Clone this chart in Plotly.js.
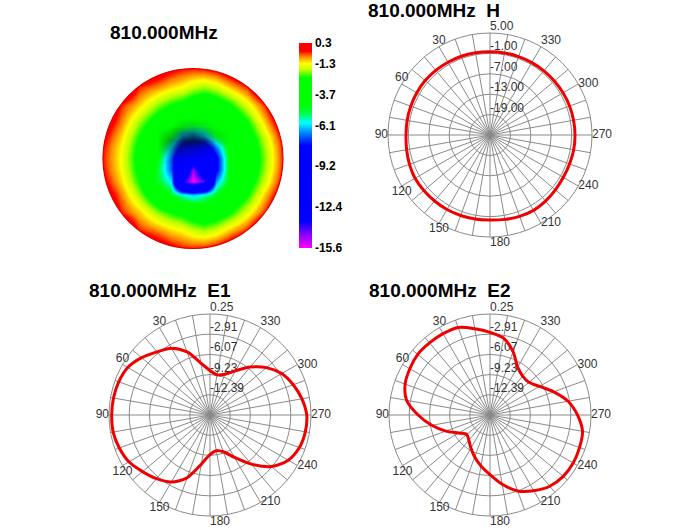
<!DOCTYPE html>
<html><head><meta charset="utf-8">
<script src="https://cdn.plot.ly/plotly-3.0.1.min.js"></script>
<style>html,body{margin:0;padding:0;background:#fff}#chart{width:700px;height:530px}</style>
</head><body><div id="chart"></div>
<script>
// ---------------- data ----------------
const freqLabel = '810.000MHz';
const patternAngles = [0,10,20,30,40,50,60,70,80,90,100,110,120,130,140,150,160,170,180,190,200,210,220,230,240,250,260,270,280,290,300,310,320,330,340,350];
const e1Values = [-8.6,-7.3,-5.05,-3.48,-2.67,-1.6,-0.69,-0.36,-0.22,-0.17,-0.17,-0.45,-0.9,-1.77,-2.54,-3.43,-5.1,-7.75,-9.34,-9.87,-9.44,-7.88,-5.52,-3.0,-1.41,-0.67,-0.41,-0.42,-0.95,-1.7,-2.6,-4.02,-5.76,-7.55,-8.77,-9.17];
const e2Values = [-2.62,-1.86,-0.98,-0.86,-0.83,-0.8,-1.07,-1.42,-2.3,-4.3,-6.3,-8.2,-9.9,-10.8,-10.4,-9.58,-8.55,-7.45,-6.22,-4.55,-2.9,-1.87,-1.0,-0.6,-0.52,-0.65,-0.85,-1.86,-3.15,-4.95,-6.6,-7.6,-7.6,-6.9,-5.0,-3.35];
const hValues = [-0.5,-0.45,-0.35,-0.3,-0.2,-0.1,-0.15,-0.2,-0.25,-0.3,-0.1,0.2,0.45,0.4,0.35,0.3,0.2,0.1,0.0,0.2,0.45,0.6,0.4,0.1,-0.1,-0.1,0.0,0.0,-0.05,-0.1,-0.2,-0.3,-0.35,-0.4,-0.45,-0.5];

const hRange = [-25, 5];
const hRadialTicks = [-19, -13, -7, -1, 5];
const hRadialLabels = ['-19.00', '-13.00', '-7.00', '-1.00', '5.00'];
const eRange = [-15.55, 0.25];
const eRadialTicks = [-12.39, -9.23, -6.07, -2.91, 0.25];
const eRadialLabels = ['-12.39', '-9.23', '-6.07', '-2.91', '0.25'];
const angleTickValues = [30,60,90,120,150,180,210,240,270,300,330];
const angleTickLabels = ['30','60','90','120','150','180','210','240','270','300','330'];

// 3D pattern seen from above: level (dB) at grid nodes, rows bottom -> top
const discNodes = [-1,-0.8,-0.6,-0.4,-0.25,-0.12,0,0.12,0.25,0.4,0.6,0.8,1];
const discLevels = [
  [1,1,1,0.25,-0.15,-0.35,-0.4,-0.35,-0.15,0.25,1,1,1],
  [1,1,-0.4,-0.75,-1.1,-1.3,-1.65,-1.85,-1.6,-1.05,-0.4,1,1],
  [1,-0.4,-1.05,-1.9,-2.4,-2.65,-3.05,-3.31,-3.03,-2.5,-1.5,-0.4,1],
  [0.25,-0.75,-1.9,-3.3,-4.8,-5.8,-6.3,-5.8,-4.8,-3.54,-2.5,-1.05,0.25],
  [-0.15,-1.1,-2.4,-4.8,-6.0,-13.5,-15.6,-14.2,-6.5,-4.6,-3.03,-1.6,-0.15],
  [-0.35,-1.3,-2.65,-4.8,-7.0,-10.5,-14.8,-11.5,-8.0,-4.6,-3.31,-1.85,-0.35],
  [-0.4,-1.35,-2.75,-4.5,-7.0,-10,-11,-10.5,-8.0,-4.6,-3.4,-1.95,-0.4],
  [-0.35,-1.3,-2.65,-4.2,-6.0,-8.5,-9.5,-9.0,-6.8,-4.4,-3.31,-1.85,-0.35],
  [-0.15,-1.1,-2.4,-3.6,-4.6,-6.2,-6.5,-6.2,-4.8,-4.0,-3.03,-1.6,-0.15],
  [0.25,-0.75,-1.9,-2.95,-3.55,-4.0,-4.4,-4.3,-4.0,-3.54,-2.5,-1.05,0.25],
  [1,-0.4,-1.05,-1.9,-2.4,-2.65,-3.05,-3.31,-3.03,-2.5,-1.5,-0.4,1],
  [1,1,-0.4,-0.75,-1.1,-1.3,-1.65,-1.85,-1.6,-1.05,-0.4,1,1],
  [1,1,1,0.25,-0.15,-0.35,-0.4,-0.35,-0.15,0.25,1,1,1]
];
// shading (0 = none, 1 = darkest) on the upper side of the central dip
const shadeNodesX = [-0.4,-0.25,-0.12,0,0.12,0.25,0.4];
const shadeNodesY = [0,0.12,0.2,0.28,0.36,0.45];
const shadeLevels = [
  [0,0.1,0.05,0,0,0,0],
  [0,0.45,0.45,0.3,0.2,0.05,0],
  [0,0.45,0.8,0.85,0.65,0.2,0],
  [0,0.2,0.6,0.7,0.45,0.1,0],
  [0,0,0.15,0.2,0.1,0,0],
  [0,0,0,0,0,0,0]
];
const colorbarTicks = [0.3,-1.3,-3.7,-6.1,-9.2,-12.4,-15.6];
const colorbarLabels = ['0.3','-1.3','-3.7','-6.1','-9.2','-12.4','-15.6'];
const discRange = [-15.6, 0.3];

// ---------------- styles ----------------
const gridColor = '#8a8a8a';
const labelFont = {family: 'Liberation Sans, Arial, sans-serif', size: 12, color: '#333'};
const titleFont = {family: 'Liberation Sans, Arial, sans-serif', size: 19, color: '#000', weight: 'bold'};
const anglePositions = ['top center','top center','middle left','bottom center','bottom center','bottom right','middle right','middle right','middle right','middle right','top right'];
const spokes = [];
for (let a = 0; a < 360; a += 10) spokes.push(a);

const discScale = [
  [0, '#ff00ff'], [0.06, '#9000ff'], [0.13, '#0000ff'], [0.5, '#0000ff'],
  [0.56, '#0080ff'], [0.61, '#00ffff'], [0.66, '#00ff40'], [0.7, '#00ff00'],
  [0.83, '#00ff00'], [0.87, '#c0ff00'], [0.9, '#ffff00'], [0.935, '#ff8000'],
  [0.96, '#ff0000'], [1, '#ff0000']
];

function polarLayout(dx, dy, range, ticks) {
  return {
    domain: {x: dx, y: dy},
    bgcolor: '#ffffff',
    angularaxis: {rotation: 90, direction: 'counterclockwise', tickmode: 'array', tickvals: spokes,
      showticklabels: false, ticks: '', gridcolor: gridColor, gridwidth: 1,
      showline: true, linecolor: gridColor, linewidth: 1, layer: 'below traces'},
    radialaxis: {range: range, tickmode: 'array', tickvals: ticks, showticklabels: false, ticks: '',
      showline: false, gridcolor: gridColor, gridwidth: 1, layer: 'below traces', angle: 90}
  };
}

function polarTraces(sub, range, ticks, labels, angles, values) {
  const closedR = values.concat([values[0]]);
  const closedT = angles.concat([360]);
  return [
    {type: 'scatterpolar', subplot: sub, mode: 'text', r: ticks, theta: ticks.map(() => 0),
     text: labels, textposition: 'top right', textfont: labelFont, cliponaxis: false,
     hoverinfo: 'skip', showlegend: false},
    {type: 'scatterpolar', subplot: sub, mode: 'text', r: angleTickValues.map(() => range[1]),
     theta: angleTickValues, text: angleTickLabels, textposition: anglePositions,
     textfont: labelFont, cliponaxis: false, hoverinfo: 'skip', showlegend: false},
    {type: 'scatterpolar', subplot: sub, mode: 'lines', r: closedR, theta: closedT,
     line: {color: '#f00000', width: 3, shape: 'spline', smoothing: 0.8},
     cliponaxis: false, hoverinfo: 'skip', showlegend: false}
  ];
}

const traces = [
  {type: 'heatmap', x: discNodes, y: discNodes, z: discLevels, zmin: discRange[0], zmax: discRange[1],
   zsmooth: 'best', colorscale: discScale, hoverinfo: 'skip',
   colorbar: {x: 299/700, xanchor: 'left', xpad: 0, y: 1 - 43/530, yanchor: 'top', ypad: 0,
     len: 205, lenmode: 'pixels', thickness: 13, thicknessmode: 'pixels', outlinewidth: 0,
     tickmode: 'array', tickvals: colorbarTicks, ticktext: colorbarLabels, ticks: '',
     tickfont: {family: 'Liberation Sans, Arial, sans-serif', size: 12, color: '#000', weight: 'bold'}}},
  {type: 'heatmap', x: shadeNodesX, y: shadeNodesY, z: shadeLevels, zmin: 0, zmax: 1, zsmooth: 'best',
   colorscale: [[0, 'rgba(0,20,30,0)'], [1, 'rgba(0,20,30,0.88)']], showscale: false, hoverinfo: 'skip'}
].concat(
  polarTraces('polar', hRange, hRadialTicks, hRadialLabels, patternAngles, hValues),
  polarTraces('polar2', eRange, eRadialTicks, eRadialLabels, patternAngles, e1Values),
  polarTraces('polar3', eRange, eRadialTicks, eRadialLabels, patternAngles, e2Values)
);

const k = 0.5523;
const maskPath = 'M -1.4,-1.4 H 1.4 V 1.4 H -1.4 Z ' +
  `M 1,0 C 1,${k} ${k},1 0,1 C ${-k},1 -1,${k} -1,0 C -1,${-k} ${-k},-1 0,-1 C ${k},-1 1,${-k} 1,0 Z`;

const layout = {
  width: 700, height: 530, margin: {l: 0, r: 0, t: 0, b: 0},
  paper_bgcolor: '#ffffff', plot_bgcolor: '#ffffff', showlegend: false,
  xaxis: {domain: [89.5/700, 296.5/700], range: [-1.15, 1.15], autorange: false, visible: false, fixedrange: true},
  yaxis: {domain: [1 - 262/530, 1 - 55/530], range: [-1.15, 1.15], autorange: false, visible: false, fixedrange: true},
  polar: polarLayout([388/700, 592/700], [293/530, 497/530], hRange, hRadialTicks),
  polar2: polarLayout([109/700, 311/700], [14/530, 216/530], eRange, eRadialTicks),
  polar3: polarLayout([389/700, 591/700], [14/530, 216/530], eRange, eRadialTicks),
  shapes: [
    {type: 'path', xref: 'x', yref: 'y', path: maskPath, fillrule: 'evenodd', fillcolor: '#ffffff',
     line: {width: 0}, layer: 'above'},
    {type: 'circle', xref: 'x', yref: 'y', x0: -1, y0: -1, x1: 1, y1: 1,
     line: {color: '#e00000', width: 1.2}, layer: 'above'}
  ],
  annotations: [
    {text: freqLabel, x: 108/700, y: 1 - 33/530},
    {text: freqLabel + '\u00A0\u00A0H', x: 366/700, y: 1 - 11/530},
    {text: freqLabel + '\u00A0\u00A0E1', x: 87/700, y: 1 - 290.5/530},
    {text: freqLabel + '\u00A0\u00A0E2', x: 367/700, y: 1 - 290.5/530}
  ].map(a => Object.assign({xref: 'paper', yref: 'paper', xanchor: 'left', yanchor: 'middle',
     showarrow: false, font: titleFont}, a))
};

Plotly.newPlot('chart', traces, layout, {staticPlot: true, displayModeBar: false});
</script>
</body></html>
